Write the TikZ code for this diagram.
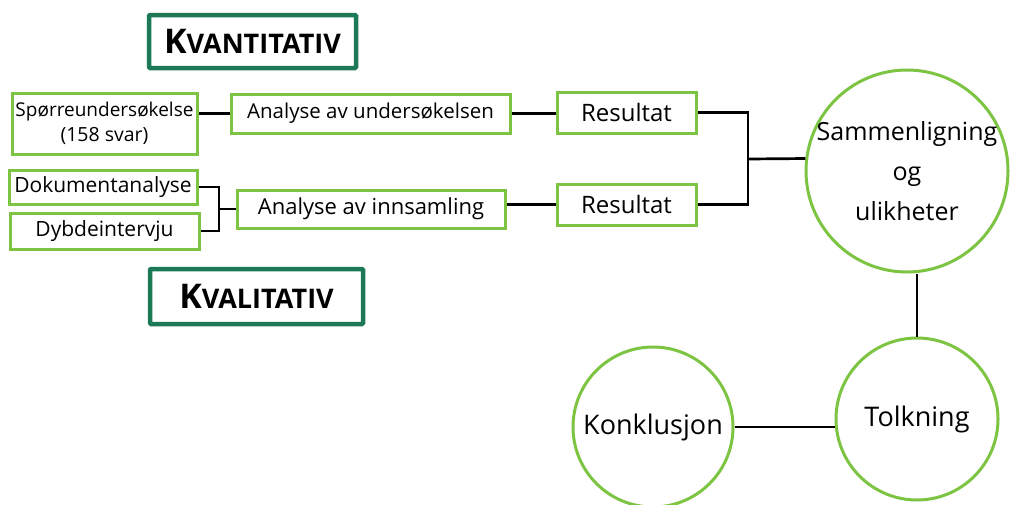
\documentclass[tikz,border=0pt]{standalone}
\usepackage{fontspec}
\setmainfont{Open Sans}
\definecolor{lgreen}{HTML}{7DC443}
\definecolor{dgreen}{HTML}{1B7A55}
\tikzset{
  box/.style={draw=lgreen, line width=3pt, fill=white, inner sep=0pt, align=center, font=\fontsize{21}{24}\selectfont},
  title/.style={draw=dgreen, line width=4.5pt, rounded corners=1pt, fill=white, inner sep=0pt, font=\bfseries\fontsize{34}{38}\selectfont},
  bubble/.style={draw=lgreen, line width=3pt, circle, fill=white, inner sep=-30pt, align=center, font=\fontsize{27}{40}\selectfont},
  link/.style={line width=2.7pt, black}
}
\begin{document}
\begin{tikzpicture}[x=1pt, y=-1pt]
\useasboundingbox (0,0) rectangle (1017,504);
\node[title, minimum width=207pt, minimum height=53pt] (kvant) at (252.5,41.5) {K{\fontsize{27}{30}\selectfont VANTITATIV}};
\node[title, minimum width=213pt, minimum height=55pt] (kval) at (256.5,296.5) {K{\fontsize{27}{30}\selectfont VALITATIV}};
\node[box, minimum width=185pt, minimum height=61pt, font=\fontsize{19}{25}\selectfont] (spor) at (104.5,123.5) {Spørreundersøkelse\\{\fontsize{19.5}{25}\selectfont(158 svar)}};
\node[box, minimum width=279pt, minimum height=39pt, font=\fontsize{20.5}{24}\selectfont] (aund) at (370.5,113.5) {Analyse av undersøkelsen};
\node[box, minimum width=188pt, minimum height=34pt] (dok) at (103,187) {Dokumentanalyse};
\node[box, minimum width=189pt, minimum height=36pt] (dyb) at (104.5,231) {Dybdeintervju};
\node[box, minimum width=268pt, minimum height=38pt, font=\fontsize{22}{24}\selectfont] (ainn) at (371,209) {Analyse av innsamling};
\node[box, minimum width=139pt, minimum height=41pt, font=\fontsize{24}{26}\selectfont] (res1) at (626.5,112.5) {Resultat};
\node[box, minimum width=139pt, minimum height=41pt, font=\fontsize{24}{26}\selectfont] (res2) at (626.5,204.5) {Resultat};
\node[bubble, minimum size=202pt, font=\fontsize{25}{40}\selectfont] (samm) at (907,171) {Sammenligning\\og\\ulikheter};
\node[bubble, minimum size=162pt] (tolk) at (917,419) {Tolkning};
\node[bubble, minimum size=160pt] (konk) at (653,427) {Konklusjon};
\coordinate (b1) at (219,209);
\coordinate (b2) at (748,159);
\draw[link] (aund.west) -- (aund.west -| spor.east);
\draw[link] (dok.east) -| (b1) |- (dyb.east);
\draw[link] (b1) -- (ainn.west);
\draw[link] (aund.east) -- (aund.east -| res1.west);
\draw[link] (res2.west) -- (res2.west -| ainn.east);
\draw[link] (res1.east) -| (b2) |- (res2.east);
\draw[link] (b2) -- (samm.173);
\draw[link] (tolk.north) -- (tolk.north |- samm.south);
\draw[link] (konk.east) -- (konk.east -| tolk.west);
\end{tikzpicture}
\end{document}
